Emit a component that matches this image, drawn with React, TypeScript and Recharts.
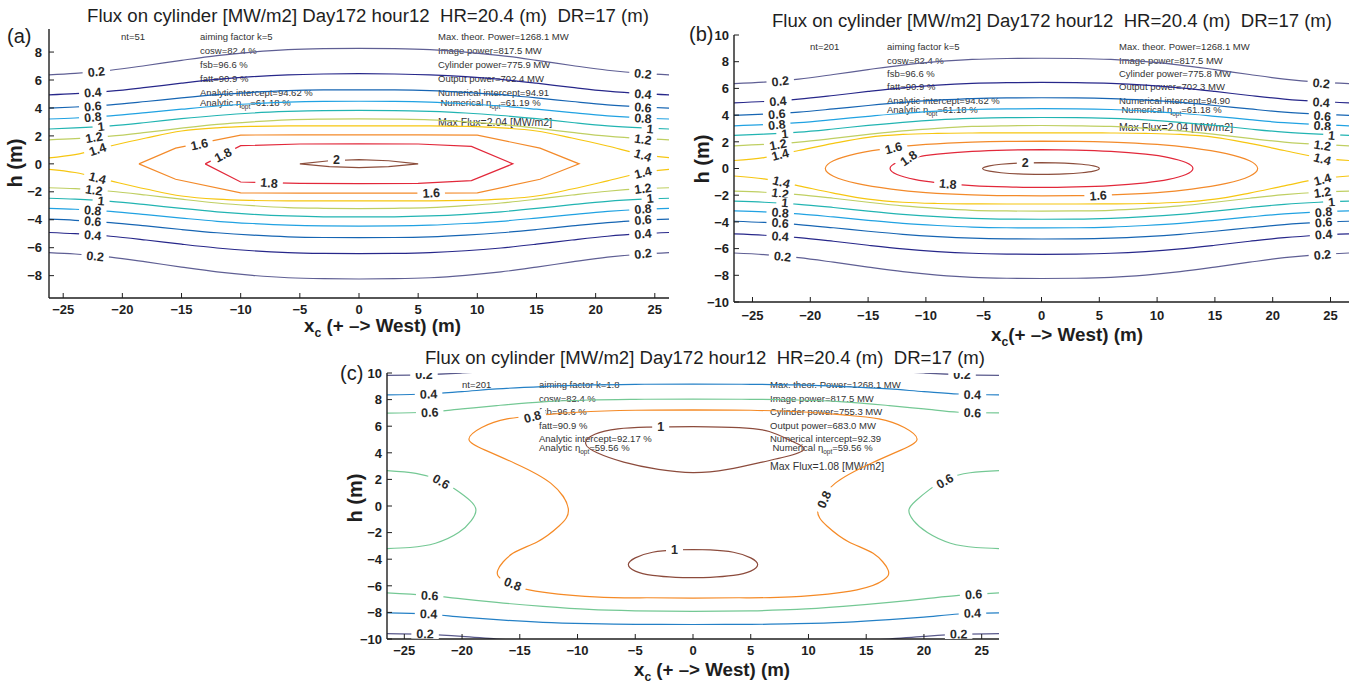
import React from 'react';
import { ComposedChart, Line, Scatter, XAxis, YAxis } from 'recharts';

const FONT = '"Liberation Sans", Arial, Helvetica, sans-serif';
const INK = '#1e1e1e';

// ---------- ticks ----------
const X_TICKS = [-25, -20, -15, -10, -5, 0, 5, 10, 15, 20, 25];
const Y_TICKS_A = [-8, -6, -4, -2, 0, 2, 4, 6, 8];
const Y_TICKS_BC = [-10, -8, -6, -4, -2, 0, 2, 4, 6, 8, 10];

// ---------- panels (a) & (b): open contour lines (upper / lower branches) ----------
const XS_OPEN = [-26.6, -24, -21, -18, -15, -12, -9, -6, -3, 0, 3, 6, 9, 12, 15, 18, 21, 24, 26.6];
const U02 = [6.36, 6.47, 6.7, 7.04, 7.41, 7.75, 8.0, 8.17, 8.24, 8.26, 8.24, 8.17, 8.0, 7.75, 7.41, 7.04, 6.7, 6.47, 6.36];
const U04 = [4.92, 5.02, 5.2, 5.47, 5.77, 6.04, 6.24, 6.37, 6.43, 6.45, 6.43, 6.37, 6.24, 6.04, 5.77, 5.47, 5.2, 5.02, 4.92];
const U06 = [3.98, 4.07, 4.22, 4.46, 4.72, 4.95, 5.12, 5.24, 5.29, 5.3, 5.29, 5.24, 5.12, 4.95, 4.72, 4.46, 4.22, 4.07, 3.98];
const U08 = [3.2, 3.28, 3.43, 3.66, 3.91, 4.14, 4.3, 4.42, 4.47, 4.48, 4.47, 4.42, 4.3, 4.14, 3.91, 3.66, 3.43, 3.28, 3.2];
const U10 = [2.48, 2.57, 2.72, 2.96, 3.23, 3.46, 3.64, 3.75, 3.81, 3.82, 3.81, 3.75, 3.64, 3.46, 3.23, 2.96, 2.72, 2.57, 2.48];
const U12 = [1.7, 1.8, 1.98, 2.25, 2.55, 2.82, 3.01, 3.15, 3.2, 3.22, 3.2, 3.15, 3.01, 2.82, 2.55, 2.25, 1.98, 1.8, 1.7];
const U14A = [0.4, 0.66, 1.28, 1.85, 2.35, 2.58, 2.68, 2.72, 2.72, 2.72, 2.72, 2.72, 2.68, 2.58, 2.35, 1.85, 1.28, 0.66, 0.42];
const U14B = [0.6, 0.82, 1.35, 1.88, 2.33, 2.55, 2.63, 2.66, 2.67, 2.67, 2.67, 2.66, 2.63, 2.55, 2.33, 1.88, 1.35, 0.82, 0.6];
const L02 = [-6.33, -6.45, -6.68, -7.02, -7.39, -7.73, -7.98, -8.15, -8.22, -8.24, -8.22, -8.15, -7.98, -7.73, -7.39, -7.02, -6.68, -6.45, -6.33];
const L04 = [-4.9, -5.0, -5.18, -5.45, -5.75, -6.02, -6.22, -6.35, -6.41, -6.43, -6.41, -6.35, -6.22, -6.02, -5.75, -5.45, -5.18, -5.0, -4.9];
const L06 = [-3.95, -4.04, -4.2, -4.44, -4.7, -4.93, -5.1, -5.22, -5.27, -5.28, -5.27, -5.22, -5.1, -4.93, -4.7, -4.44, -4.2, -4.04, -3.95];
const L08 = [-3.18, -3.25, -3.4, -3.63, -3.88, -4.11, -4.27, -4.39, -4.44, -4.45, -4.44, -4.39, -4.27, -4.11, -3.88, -3.63, -3.4, -3.25, -3.18];
const L10 = [-2.45, -2.53, -2.68, -2.92, -3.19, -3.43, -3.61, -3.73, -3.79, -3.8, -3.79, -3.73, -3.61, -3.43, -3.19, -2.92, -2.68, -2.53, -2.45];
const L12 = [-1.7, -1.78, -1.96, -2.23, -2.53, -2.8, -2.99, -3.13, -3.18, -3.2, -3.18, -3.13, -2.99, -2.8, -2.53, -2.23, -1.96, -1.78, -1.7];
const L14A = [-0.36, -0.62, -1.22, -1.8, -2.3, -2.53, -2.62, -2.65, -2.65, -2.65, -2.65, -2.65, -2.62, -2.53, -2.3, -1.8, -1.22, -0.62, -0.36];
const L14B = [-0.56, -0.78, -1.3, -1.84, -2.3, -2.53, -2.62, -2.65, -2.66, -2.66, -2.66, -2.65, -2.62, -2.53, -2.3, -1.84, -1.3, -0.78, -0.56];

// (a) closed polygonal contours (coarse grid nt=51)
const A16_X = [-18.6, -15.5, -10, -5, 0, 5, 10, 15.3, 18.6, 15.3, 10, 5, 0, -5, -10, -15.5, -18.6];
const A16_Y = [0, 1.12, 2.06, 2.08, 2.08, 2.08, 2.06, 1.12, 0, -1.1, -2.08, -2.1, -2.1, -2.1, -2.08, -1.1, 0];
const A18_X = [-13, -10, -5, 0, 5, 9.5, 13, 9.5, 5, 0, -5, -10, -13];
const A18_Y = [0, 1.3, 1.42, 1.43, 1.42, 1.25, 0, -1.2, -1.4, -1.42, -1.4, -1.3, 0];
const A20_X = [-5, -2.5, 0, 2.5, 5, 2.5, 0, -2.5, -5];
const A20_Y = [0, 0.22, 0.3, 0.22, 0, -0.2, -0.27, -0.2, 0];

// (b) closed smooth contours (nt=201)
const B16_X = [0, 3, 6, 10, 13, 16, 18, 18.7, 18, 16, 13, 10, 6, 3, 0, -3, -6, -10, -13, -16, -18, -18.7, -18, -16, -13, -10, -6, -3, 0];
const B16_Y = [2.05, 2.03, 1.97, 1.8, 1.55, 1.12, 0.58, 0, -0.58, -1.12, -1.55, -1.8, -1.97, -2.03, -2.05, -2.03, -1.97, -1.8, -1.55, -1.12, -0.58, 0, 0.58, 1.12, 1.55, 1.8, 1.97, 2.03, 2.05];
const B18_X = [0, 3, 6, 9, 11, 12.5, 13.1, 12.5, 11, 9, 6, 3, 0, -3, -6, -9, -11, -12.5, -13.1, -12.5, -11, -9, -6, -3, 0];
const B18_Y = [1.42, 1.38, 1.28, 1.07, 0.82, 0.45, 0, -0.45, -0.82, -1.07, -1.28, -1.38, -1.42, -1.38, -1.28, -1.07, -0.82, -0.45, 0, 0.45, 0.82, 1.07, 1.28, 1.38, 1.42];
const B20_X = [0, 2, 3.5, 4.5, 5, 4.5, 3.5, 2, 0, -2, -3.5, -4.5, -5.1, -4.5, -3.5, -2, 0];
const B20_Y = [0.44, 0.41, 0.32, 0.2, 0, -0.2, -0.32, -0.41, -0.44, -0.41, -0.32, -0.2, 0, 0.2, 0.32, 0.41, 0.44];

// ---------- panel (c) ----------
const XS_C = [-26.5, -23, -20, -17, -13, -9, -5, 0, 5, 9, 13, 17, 20, 23, 26.5];
const C_U02 = [9.82, 9.88, 10.0, 10.15, 10.35, 10.5, 10.57, 10.6, 10.57, 10.5, 10.35, 10.15, 10.0, 9.88, 9.82];
const C_U04 = [8.36, 8.42, 8.6, 8.8, 8.98, 9.1, 9.15, 9.17, 9.15, 9.1, 8.98, 8.8, 8.6, 8.42, 8.36];
const C_U06 = [6.98, 7.05, 7.3, 7.55, 7.83, 7.97, 8.02, 8.04, 8.02, 7.97, 7.83, 7.55, 7.3, 7.05, 7.0];
const C_L06 = [-6.53, -6.72, -6.98, -7.25, -7.55, -7.78, -7.88, -7.92, -7.88, -7.78, -7.55, -7.25, -6.98, -6.72, -6.53];
const C_L04 = [-8.03, -8.12, -8.35, -8.55, -8.75, -8.85, -8.9, -8.91, -8.9, -8.85, -8.75, -8.55, -8.35, -8.12, -8.03];
const C_L02 = [-9.59, -9.65, -9.8, -10.0, -10.2, -10.35, -10.4, -10.42, -10.4, -10.35, -10.2, -10.0, -9.8, -9.65, -9.6];
const C08_X = [0, 5, 10, 13, 16.1, 18.3, 19.4, 18.0, 15.4, 12.3, 10.8, 11.6, 13.5, 15.6, 16.9, 16.5, 14.2, 8.5, 4, 0, -4, -8.5, -14.2, -16.5, -16.9, -15.6, -13.5, -11.6, -10.8, -12.3, -15.4, -18.0, -19.4, -18.3, -16.1, -13, -10, -5, 0];
const C08_Y = [7.23, 7.2, 7.05, 6.85, 6.55, 5.9, 5.0, 4.2, 3.2, 1.7, -0.2, -1.5, -2.7, -3.56, -4.82, -5.57, -6.3, -6.83, -6.9, -6.92, -6.9, -6.83, -6.3, -5.57, -4.82, -3.56, -2.7, -1.5, -0.2, 1.7, 3.2, 4.2, 5.0, 5.9, 6.55, 6.85, 7.05, 7.2, 7.23];
const C10U_X = [0, 4, 6.6, 8.5, 9.6, 8, 6, 3, 0, -3, -6, -8.3, -9.3, -8.5, -6.5, -4, 0];
const C10U_Y = [5.97, 5.9, 5.6, 4.9, 4.25, 3.7, 3.3, 2.75, 2.51, 2.75, 3.3, 4.0, 4.7, 5.4, 5.8, 5.93, 5.97];
const C10L_X = [0, 1.5, 3.5, 5, 5.6, 5, 3.5, 1.5, 0, -1.5, -3.5, -5, -5.6, -5, -3.5, -1.5, 0];
const C10L_Y = [-3.27, -3.3, -3.48, -3.9, -4.4, -4.9, -5.22, -5.36, -5.38, -5.36, -5.22, -4.9, -4.4, -3.9, -3.48, -3.3, -3.27];
const C06L_X = [-26.5, -24, -22, -20.5, -19.3, -18.8, -19.2, -20.3, -22.3, -24.5, -26.5];
const C06L_Y = [2.66, 2.45, 1.95, 1.2, 0.4, -0.3, -1.1, -2.0, -2.8, -3.12, -3.2];
const C06R_X = [26.5, 24, 22, 20.5, 19.3, 18.7, 19.1, 20.3, 22.3, 24.5, 26.5];
const C06R_Y = [2.66, 2.5, 2.05, 1.25, 0.4, -0.3, -1.1, -2.0, -2.8, -3.12, -3.2];

// ---------- contour labels: [x, y, text, angle] ----------
type L = [number, number, string, number];
const LBL_A: L[] = [
  [-22.2, 6.6, '0.2', -6], [-22.5, 5.12, '0.4', -5], [-22.5, 4.13, '0.6', -5], [-22.5, 3.35, '0.8', -5],
  [-21.8, 2.68, '1', -5], [-22.4, 1.9, '1.2', -10], [-22.1, 1.05, '1.4', -18],
  [-22.1, -1.0, '1.4', 15], [-22.4, -1.88, '1.2', 8], [-21.8, -2.65, '1', 5], [-22.5, -3.33, '0.8', 5],
  [-22.5, -4.1, '0.6', 5], [-22.5, -5.1, '0.4', 5], [-22.3, -6.6, '0.2', 6],
  [24, 6.45, '0.2', 6], [24, 5.0, '0.4', 5], [24, 4.05, '0.6', 5], [24, 3.27, '0.8', 5], [24.6, 2.5, '1', 5],
  [24, 1.76, '1.2', 8], [24, 0.62, '1.4', 18],
  [24, -0.62, '1.4', -15], [24, -1.76, '1.2', -8], [24.6, -2.46, '1', -5], [24, -3.22, '0.8', -5],
  [24, -4.0, '0.6', -5], [24, -5.0, '0.4', -5], [24, -6.42, '0.2', -6],
  [-13.5, 1.4, '1.6', -12], [-11.5, 0.65, '1.8', -27], [-1.9, 0.28, '2', 0], [-7.6, -1.36, '1.8', 5], [6.1, -2.08, '1.6', -3],
];
const LBL_B: L[] = [
  [-22.6, 6.55, '0.2', -6], [-22.8, 5.05, '0.4', -5], [-22.9, 4.08, '0.6', -5], [-22.9, 3.28, '0.8', -5],
  [-22.2, 2.6, '1', -5], [-22.8, 1.8, '1.2', -10], [-22.6, 1.05, '1.4', -15],
  [-22.5, -1.0, '1.4', 15], [-22.6, -1.86, '1.2', 8], [-22.2, -2.55, '1', 5], [-22.6, -3.3, '0.8', 5],
  [-22.6, -4.07, '0.6', 5], [-22.6, -5.07, '0.4', 5], [-22.4, -6.58, '0.2', 6],
  [24.2, 6.4, '0.2', 6], [24.2, 4.97, '0.4', 5], [24.3, 3.95, '0.6', 5], [24.3, 3.2, '0.8', 5], [25.1, 2.48, '1', 5],
  [24.3, 1.74, '1.2', 8], [24.3, 0.72, '1.4', 15],
  [24.3, -0.82, '1.4', -15], [24.3, -1.78, '1.2', -8], [25.1, -2.5, '1', -5], [24.4, -3.25, '0.8', -5],
  [24.4, -4.02, '0.6', -5], [24.4, -4.93, '0.4', -5], [24.3, -6.45, '0.2', -6],
  [-12.8, 1.55, '1.6', -15], [-11.5, 0.78, '1.8', -35], [-1.4, 0.44, '2', 0], [-8.1, -1.15, '1.8', 5], [4.9, -2.02, '1.6', -3],
];
const LBL_C: L[] = [
  [-23.3, 9.85, '0.2', 0], [23.3, 9.85, '0.2', 0], [-22.9, 8.42, '0.4', -2], [24.2, 8.38, '0.4', 2],
  [-22.8, 7.05, '0.6', -3], [24.2, 7.02, '0.6', 3], [-13.9, 6.72, '0.8', -15], [-2.8, 5.96, '1', 0],
  [-21.8, 1.85, '0.6', 30], [21.8, 1.88, '0.6', -30], [11.35, 0.5, '0.8', -65], [-1.6, -3.28, '1', 0],
  [-15.6, -5.85, '0.8', 22], [-22.8, -6.72, '0.6', 3], [24.3, -6.63, '0.6', -3], [-22.9, -8.1, '0.4', 2],
  [24.2, -8.05, '0.4', -2], [-23.2, -9.6, '0.2', 1], [23.0, -9.62, '0.2', -1],
];

// ---------- annotation texts ----------
const ANN_A_NT = 'nt=51';
const ANN_A_LEFT = ['aiming factor k=5', 'cosw=82.4 %', 'fsb=96.6 %', 'fatt=90.9 %', 'Analytic intercept=94.62 %'];
const ANN_A_RIGHT = ['Max. theor. Power=1268.1 MW', 'Image power=817.5 MW', 'Cylinder power=775.9 MW', 'Output power=702.4 MW', 'Numerical intercept=94.91'];
const ANN_A_ETA = ['=61.18 %', '=61.19 %'];
const ANN_A_MAX = 'Max Flux=2.04 [MW/m2]';
const ANN_B_NT = 'nt=201';
const ANN_B_LEFT = ['aiming factor k=5', 'cosw=82.4 %', 'fsb=96.6 %', 'fatt=90.9 %', 'Analytic intercept=94.62 %'];
const ANN_B_RIGHT = ['Max. theor. Power=1268.1 MW', 'Image power=817.5 MW', 'Cylinder power=775.8 MW', 'Output power=702.3 MW', 'Numerical intercept=94.90'];
const ANN_B_ETA = ['=61.18 %', '=61.18 %'];
const ANN_B_MAX = 'Max Flux=2.04 [MW/m2]';
const ANN_C_NT = 'nt=201';
const ANN_C_LEFT = ['aiming factor k=1.8', 'cosw=82.4 %', 'fsb=96.6 %', 'fatt=90.9 %', 'Analytic intercept=92.17 %'];
const ANN_C_RIGHT = ['Max. theor. Power=1268.1 MW', 'Image power=817.5 MW', 'Cylinder power=755.3 MW', 'Output power=683.0 MW', 'Numerical intercept=92.39'];
const ANN_C_ETA = ['=59.56 %', '=59.56 %'];
const ANN_C_MAX = 'Max Flux=1.08 [MW/m2]';
const TITLE = 'Flux on cylinder [MW/m2] Day172 hour12  HR=20.4 (m)  DR=17 (m)';

// ---------- colours ----------
const COL: Record<string, string> = {
  '0.2': '#5f5f94', '0.4': '#27278a', '0.6': '#1665b3', '0.8': '#20a2e2', '1': '#22b4b2',
  '1.2': '#bfcf62', '1.4': '#f6c611', '1.6': '#f38a2a', '1.8': '#e2283a', '2': '#8c4e3c',
};
const COL_C: Record<string, string> = { '0.2': '#5a5a8c', '0.4': '#2480c6', '0.6': '#74c894', '0.8': '#f58a26', '1': '#8c4b3c' };

type Pt = { x: number; y: number };
type Ser = { pts: Pt[]; color: string; curve: 'monotone' | 'linear' | 'natural' };
const zip = (xs: number[], ys: number[]): Pt[] => xs.map((x, i) => ({ x, y: ys[i] }));
const open = (ys: number[], lvl: string, cmap = COL): Ser => ({ pts: zip(XS_OPEN, ys), color: cmap[lvl], curve: 'monotone' });

const SER_A: Ser[] = [
  open(U02, '0.2'), open(U04, '0.4'), open(U06, '0.6'), open(U08, '0.8'), open(U10, '1'), open(U12, '1.2'), open(U14A, '1.4'),
  open(L02, '0.2'), open(L04, '0.4'), open(L06, '0.6'), open(L08, '0.8'), open(L10, '1'), open(L12, '1.2'), open(L14A, '1.4'),
  { pts: zip(A16_X, A16_Y), color: COL['1.6'], curve: 'linear' },
  { pts: zip(A18_X, A18_Y), color: COL['1.8'], curve: 'linear' },
  { pts: zip(A20_X, A20_Y), color: COL['2'], curve: 'linear' },
];
const SER_B: Ser[] = [
  open(U02, '0.2'), open(U04, '0.4'), open(U06, '0.6'), open(U08, '0.8'), open(U10, '1'), open(U12, '1.2'), open(U14B, '1.4'),
  open(L02, '0.2'), open(L04, '0.4'), open(L06, '0.6'), open(L08, '0.8'), open(L10, '1'), open(L12, '1.2'), open(L14B, '1.4'),
  { pts: zip(B16_X, B16_Y), color: COL['1.6'], curve: 'natural' },
  { pts: zip(B18_X, B18_Y), color: COL['1.8'], curve: 'natural' },
  { pts: zip(B20_X, B20_Y), color: COL['2'], curve: 'natural' },
];
const SER_C: Ser[] = [
  { pts: zip(XS_C, C_U02), color: COL_C['0.2'], curve: 'monotone' },
  { pts: zip(XS_C, C_U04), color: COL_C['0.4'], curve: 'monotone' },
  { pts: zip(XS_C, C_U06), color: COL_C['0.6'], curve: 'monotone' },
  { pts: zip(XS_C, C_L06), color: COL_C['0.6'], curve: 'monotone' },
  { pts: zip(XS_C, C_L04), color: COL_C['0.4'], curve: 'monotone' },
  { pts: zip(XS_C, C_L02), color: COL_C['0.2'], curve: 'monotone' },
  { pts: zip(C06L_X, C06L_Y), color: COL_C['0.6'], curve: 'natural' },
  { pts: zip(C06R_X, C06R_Y), color: COL_C['0.6'], curve: 'natural' },
  { pts: zip(C08_X, C08_Y), color: COL_C['0.8'], curve: 'natural' },
  { pts: zip(C10U_X, C10U_Y), color: COL_C['1'], curve: 'natural' },
  { pts: zip(C10L_X, C10L_Y), color: COL_C['1'], curve: 'natural' },
];

const fmt = (v: number) => (v < 0 ? '\u2212' + Math.abs(v) : String(v));
const textW = (t: string) => t.split('').reduce((s, ch) => s + (ch === '.' ? 3.5 : 7), 0);
const TICK_FS = 13;

const LabelShape = (p: any) => {
  const { cx, cy, payload } = p;
  if (cx == null || cy == null) return <g />;
  const w = textW(payload.t);
  return (
    <g transform={`translate(${cx},${cy}) rotate(${payload.a})`}>
      <rect x={-w / 2 - 5} y={-5} width={w + 10} height={10} fill="#ffffff" />
      <text x={0} y={4.5} textAnchor="middle" fontSize={12.5} fontWeight="bold" fill="#2a2a2a" fontFamily={FONT}>
        {payload.t}
      </text>
    </g>
  );
};

type PanelProps = {
  left: number; top: number; width: number; height: number;
  margin: { top: number; right: number; bottom: number; left: number };
  yW: number; xH: number; xDom: [number, number]; yDom: [number, number]; yTicks: number[];
  series: Ser[]; labels: L[]; xLblDy: number; yLblDx: number;
};

function Panel(pp: PanelProps) {
  const axisLine = { stroke: INK, strokeWidth: 1.4 };
  const lblData = pp.labels.map(([x, y, t, a]) => ({ x, y, t, a }));
  return (
    <div style={{ position: 'absolute', left: pp.left, top: pp.top }}>
      <ComposedChart width={pp.width} height={pp.height} margin={pp.margin}>
        <XAxis xAxisId="b" dataKey="x" type="number" domain={pp.xDom} allowDataOverflow ticks={X_TICKS} interval={0}
          height={pp.xH} tickSize={0} tickMargin={0} tickLine={false} axisLine={axisLine}
          tick={(p: any) => (
            <g>
              <line x1={p.x} x2={p.x} y1={p.y} y2={p.y - 5} stroke={INK} strokeWidth={1} />
              <text x={p.x} y={p.y + pp.xLblDy} textAnchor="middle" fontSize={TICK_FS} fontWeight="bold" fill={INK} fontFamily={FONT}>{fmt(p.payload.value)}</text>
            </g>
          )} />
        <XAxis xAxisId="t" orientation="top" type="number" domain={pp.xDom} allowDataOverflow ticks={X_TICKS} interval={0}
          height={0} tickSize={0} tickMargin={0} tickLine={false} axisLine={axisLine}
          tick={(p: any) => <line x1={p.x} x2={p.x} y1={p.y} y2={p.y + 5} stroke={INK} strokeWidth={1} />} />
        <YAxis yAxisId="l" dataKey="y" type="number" domain={pp.yDom} allowDataOverflow ticks={pp.yTicks} interval={0}
          width={pp.yW} tickSize={0} tickMargin={0} tickLine={false} axisLine={axisLine}
          tick={(p: any) => (
            <g>
              <line x1={p.x} x2={p.x + 5} y1={p.y} y2={p.y} stroke={INK} strokeWidth={1} />
              <text x={p.x - pp.yLblDx} y={p.y + 4.7} textAnchor="end" fontSize={TICK_FS} fontWeight="bold" fill={INK} fontFamily={FONT}>{fmt(p.payload.value)}</text>
            </g>
          )} />
        <YAxis yAxisId="r" orientation="right" type="number" domain={pp.yDom} allowDataOverflow ticks={pp.yTicks} interval={0}
          width={0} tickSize={0} tickMargin={0} tickLine={false} axisLine={axisLine}
          tick={(p: any) => <line x1={p.x} x2={p.x - 5} y1={p.y} y2={p.y} stroke={INK} strokeWidth={1} />} />
        {pp.series.map((s, i) => (
          <Line key={i} xAxisId="b" yAxisId="l" data={s.pts} dataKey="y" type={s.curve} stroke={s.color}
            strokeWidth={1.2} dot={false} activeDot={false} isAnimationActive={false} />
        ))}
        <Scatter xAxisId="b" yAxisId="l" data={lblData} dataKey="y" shape={LabelShape} isAnimationActive={false} />
      </ComposedChart>
    </div>
  );
}

const T = (p: { x: number; y: number; children: React.ReactNode; size?: number }) => (
  <text x={p.x} y={p.y} fontSize={p.size ?? 9.5} fill="#333" fontFamily={FONT}>{p.children}</text>
);

function Annot(p: { ntX: number; lx: number; rx: number; rows: number[]; etaY: number; maxY: number;
  nt: string; left: string[]; right: string[]; eta: string[]; max: string }) {
  const d = 3.4;
  return (
    <g>
      <T x={p.ntX} y={p.rows[0] + d}>{p.nt}</T>
      {p.left.map((s, i) => <T key={'l' + i} x={p.lx} y={p.rows[i] + d}>{s}</T>)}
      {p.right.map((s, i) => <T key={'r' + i} x={p.rx} y={p.rows[i] + d}>{s}</T>)}
      <text x={p.lx} y={p.etaY + d} fontSize={9.5} fill="#333" fontFamily={FONT}>
        Analytic η<tspan dy={3} fontSize={6.5}>opt</tspan><tspan dy={-3}>{p.eta[0]}</tspan>
      </text>
      <text x={p.rx + 2.5} y={p.etaY + d} fontSize={9.5} fill="#333" fontFamily={FONT}>
        Numerical η<tspan dy={3} fontSize={6.5}>opt</tspan><tspan dy={-3}>{p.eta[1]}</tspan>
      </text>
      <T x={p.rx} y={p.maxY + 3.8} size={10.5}>{p.max}</T>
    </g>
  );
}

function XLabel(p: { x: number; y: number; len: number; space: boolean }) {
  return (
    <text x={p.x} y={p.y} fontSize={18.5} fontWeight="bold" fill={INK} fontFamily={FONT} textLength={p.len} lengthAdjust="spacingAndGlyphs">
      x<tspan dy={5} fontSize={12}>c</tspan><tspan dy={-5}>{(p.space ? ' ' : '') + '(+ –> West) (m)'}</tspan>
    </text>
  );
}
function YLabel(p: { x: number; y: number }) {
  return (
    <text transform={`translate(${p.x},${p.y}) rotate(-90)`} textAnchor="middle" dominantBaseline="central"
      fontSize={20} fontWeight="bold" fill={INK} fontFamily={FONT}>h (m)</text>
  );
}
function Title(p: { x: number; y: number; len: number }) {
  return (
    <text x={p.x} y={p.y} fontSize={18} fill={INK} fontFamily={FONT} textLength={p.len} lengthAdjust="spacingAndGlyphs" style={{ whiteSpace: 'pre' }}>
      {TITLE}
    </text>
  );
}

export default function App() {
  return (
    <div style={{ position: 'absolute', left: 0, top: 0, width: 1369, height: 689, background: '#fff', fontFamily: FONT }}>
      <svg width={1369} height={689} style={{ position: 'absolute', left: 0, top: 0 }}>
        <Title x={87} y={22} len={562} />
        <Title x={772} y={27} len={560} />
        <Title x={425} y={364} len={560} />
        <text x={7} y={43} fontSize={20} fill={INK} fontFamily={FONT}>(a)</text>
        <text x={689} y={41} fontSize={20} fill={INK} fontFamily={FONT}>(b)</text>
        <text x={340} y={380} fontSize={20} fill={INK} fontFamily={FONT}>(c)</text>
        <YLabel x={15} y={163} />
        <YLabel x={702} y={159} />
        <YLabel x={355} y={498} />
        <XLabel x={304} y={332} len={157} space={true} />
        <XLabel x={991} y={341} len={152} space={false} />
        <XLabel x={634} y={676} len={156} space={true} />
        <Annot ntX={121} lx={200} rx={438} rows={[36.5, 51, 64.5, 79, 92.7]} etaY={103} maxY={121.7}
          nt={ANN_A_NT} left={ANN_A_LEFT} right={ANN_A_RIGHT} eta={ANN_A_ETA} max={ANN_A_MAX} />
        <Annot ntX={810} lx={887} rx={1119} rows={[46.7, 60.3, 73.7, 87, 100.8]} etaY={109.7} maxY={127.3}
          nt={ANN_B_NT} left={ANN_B_LEFT} right={ANN_B_RIGHT} eta={ANN_B_ETA} max={ANN_B_MAX} />
        <Annot ntX={462} lx={539} rx={770} rows={[384.3, 399, 411.7, 425.8, 438.7]} etaY={447.7} maxY={465.7}
          nt={ANN_C_NT} left={ANN_C_LEFT} right={ANN_C_RIGHT} eta={ANN_C_ETA} max={ANN_C_MAX} />
      </svg>
      <Panel left={0} top={0} width={700} height={345} margin={{ top: 29, right: 31, bottom: 0, left: 0 }}
        yW={49} xH={47} xDom={[-26.2, 26.2]} yDom={[-9.6, 9.65]} yTicks={Y_TICKS_A}
        series={SER_A} labels={LBL_A} xLblDy={15.5} yLblDx={7} />
      <Panel left={690} top={0} width={679} height={345} margin={{ top: 35, right: 20, bottom: 0, left: 0 }}
        yW={44} xH={43} xDom={[-26.6, 26.6]} yDom={[-10, 10]} yTicks={Y_TICKS_BC}
        series={SER_B} labels={LBL_B} xLblDy={17.5} yLblDx={5} />
      <Panel left={340} top={345} width={680} height={344} margin={{ top: 28, right: 21, bottom: 0, left: 0 }}
        yW={47} xH={50} xDom={[-26.5, 26.5]} yDom={[-10, 10]} yTicks={Y_TICKS_BC}
        series={SER_C} labels={LBL_C} xLblDy={16} yLblDx={5} />
    </div>
  );
}
